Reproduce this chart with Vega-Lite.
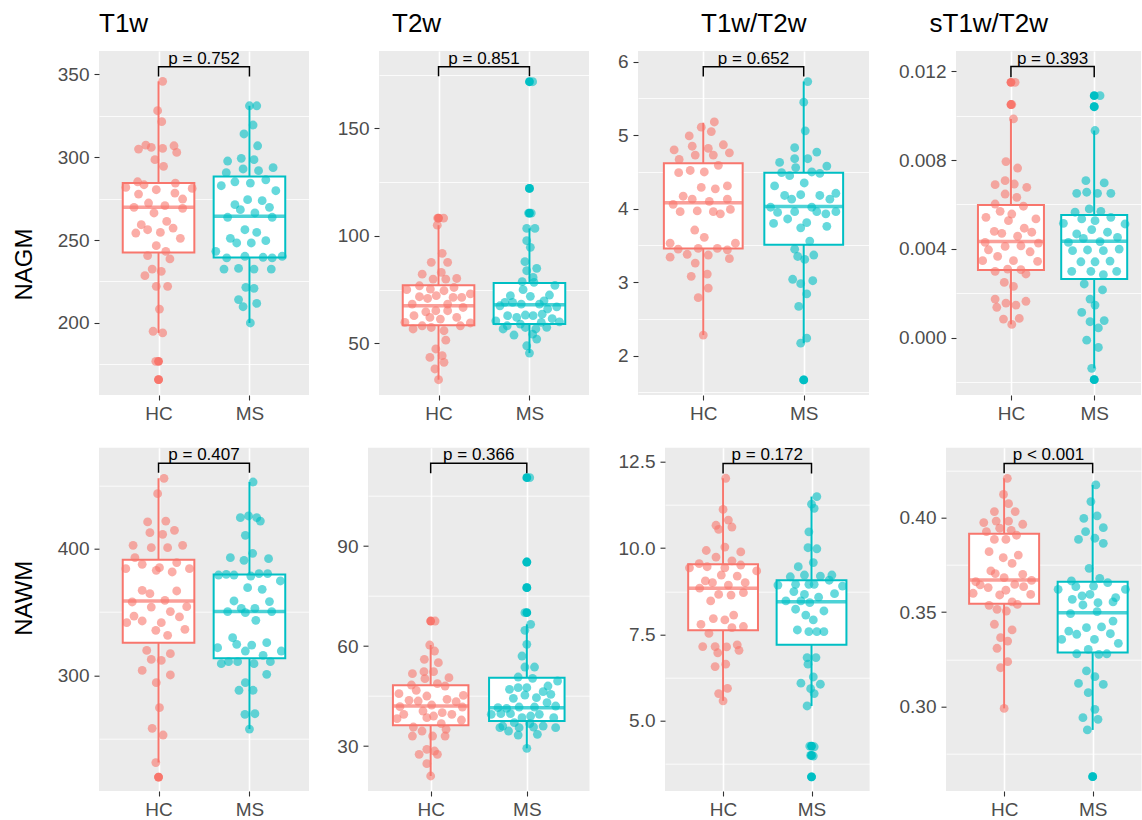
{
"$schema": "https://vega.github.io/schema/vega-lite/v6.json",
"padding": {"left": 12, "top": 10, "right": 0, "bottom": 0},
"background": "white",
"spacing": 20.7,
"config": {
  "font": "Liberation Sans",
  "view": {"fill": "#EBEBEB", "stroke": null},
  "axis": {"domain": false, "tickColor": "#333333", "tickSize": 5, "tickWidth": 1.1, "labelFontSize": 19, "labelColor": "#4D4D4D", "labelPadding": 4, "grid": true, "gridColor": "#FFFFFF", "gridWidth": 1.6, "labelFont": "Liberation Sans"},
  "axisY": {"labelPadding": 5}
},
"datasets": {
"box": [
{"p":"A1","g":"HC","x":1,"lo":194.0,"q1":242.4,"md":269.7,"q3":284.3,"hi":345.6},
{"p":"A1","g":"MS","x":2,"lo":200.0,"q1":239.4,"md":264.3,"q3":288.2,"hi":330.9},
{"p":"A2","g":"HC","x":1,"lo":33.1,"q1":58.5,"md":67.5,"q3":77.1,"hi":105.0},
{"p":"A2","g":"MS","x":2,"lo":45.5,"q1":59.0,"md":68.0,"q3":78.1,"hi":103.5},
{"p":"A3","g":"HC","x":1,"lo":2.28,"q1":3.46,"md":4.08,"q3":4.62,"hi":5.17},
{"p":"A3","g":"MS","x":2,"lo":2.17,"q1":3.51,"md":4.03,"q3":4.49,"hi":5.73},
{"p":"A4","g":"HC","x":1,"lo":0.0006,"q1":0.00305,"md":0.00433,"q3":0.00598,"hi":0.00985},
{"p":"A4","g":"MS","x":2,"lo":-0.00138,"q1":0.00264,"md":0.00434,"q3":0.00553,"hi":0.00933},
{"p":"B1","g":"HC","x":1,"lo":231.1,"q1":325.8,"md":358.7,"q3":391.3,"hi":455.5},
{"p":"B1","g":"MS","x":2,"lo":257.6,"q1":313.4,"md":350.3,"q3":379.7,"hi":452.6},
{"p":"B2","g":"HC","x":1,"lo":21.0,"q1":36.2,"md":42.0,"q3":48.2,"hi":60.3},
{"p":"B2","g":"MS","x":2,"lo":29.3,"q1":37.5,"md":41.5,"q3":50.5,"hi":66.5},
{"p":"B3","g":"HC","x":1,"lo":5.58,"q1":7.62,"md":8.84,"q3":9.53,"hi":12.02},
{"p":"B3","g":"MS","x":2,"lo":5.43,"q1":7.20,"md":8.45,"q3":9.07,"hi":11.49},
{"p":"B4","g":"HC","x":1,"lo":0.2991,"q1":0.3545,"md":0.3670,"q3":0.3915,"hi":0.4208},
{"p":"B4","g":"MS","x":2,"lo":0.2877,"q1":0.3286,"md":0.3497,"q3":0.3661,"hi":0.4173}
],
"out": [
{"p":"A1","g":"HC","x":1,"y":176.9},{"p":"A1","g":"HC","x":1,"y":165.9},
{"p":"A2","g":"HC","x":1,"y":108.3},{"p":"A2","g":"MS","x":2,"y":171.7},{"p":"A2","g":"MS","x":2,"y":122.1},{"p":"A2","g":"MS","x":2,"y":110.6},
{"p":"A3","g":"MS","x":2,"y":1.67},
{"p":"A4","g":"HC","x":1,"y":0.0115},{"p":"A4","g":"HC","x":1,"y":0.0105},{"p":"A4","g":"MS","x":2,"y":0.0109},{"p":"A4","g":"MS","x":2,"y":0.0104},{"p":"A4","g":"MS","x":2,"y":-0.00189},
{"p":"B1","g":"HC","x":1,"y":219.7},
{"p":"B2","g":"HC","x":1,"y":67.5},{"p":"B2","g":"MS","x":2,"y":110.5},{"p":"B2","g":"MS","x":2,"y":85.2},{"p":"B2","g":"MS","x":2,"y":77.5},{"p":"B2","g":"MS","x":2,"y":70.0},
{"p":"B3","g":"MS","x":2,"y":4.27},{"p":"B3","g":"MS","x":2,"y":4.0},{"p":"B3","g":"MS","x":2,"y":3.38},
{"p":"B4","g":"MS","x":2,"y":0.263}
],
"brk": [
{"p":"A1","x":1,"y":348.6,"o":1},{"p":"A1","x":1,"y":354.4,"o":2},{"p":"A1","x":2,"y":354.4,"o":3},{"p":"A1","x":2,"y":348.6,"o":4},
{"p":"A2","x":1,"y":174.2,"o":1},{"p":"A2","x":1,"y":178.7,"o":2},{"p":"A2","x":2,"y":178.7,"o":3},{"p":"A2","x":2,"y":174.2,"o":4},
{"p":"A3","x":1,"y":5.80,"o":1},{"p":"A3","x":1,"y":5.93,"o":2},{"p":"A3","x":2,"y":5.93,"o":3},{"p":"A3","x":2,"y":5.80,"o":4},
{"p":"A4","x":1,"y":0.01173,"o":1},{"p":"A4","x":1,"y":0.01221,"o":2},{"p":"A4","x":2,"y":0.01221,"o":3},{"p":"A4","x":2,"y":0.01173,"o":4},
{"p":"B1","x":1,"y":460.0,"o":1},{"p":"B1","x":1,"y":467.4,"o":2},{"p":"B1","x":2,"y":467.4,"o":3},{"p":"B1","x":2,"y":460.0,"o":4},
{"p":"B2","x":1,"y":111.8,"o":1},{"p":"B2","x":1,"y":114.8,"o":2},{"p":"B2","x":2,"y":114.8,"o":3},{"p":"B2","x":2,"y":111.8,"o":4},
{"p":"B3","x":1,"y":12.16,"o":1},{"p":"B3","x":1,"y":12.45,"o":2},{"p":"B3","x":2,"y":12.45,"o":3},{"p":"B3","x":2,"y":12.16,"o":4},
{"p":"B4","x":1,"y":0.4235,"o":1},{"p":"B4","x":1,"y":0.4287,"o":2},{"p":"B4","x":2,"y":0.4287,"o":3},{"p":"B4","x":2,"y":0.4235,"o":4}
],
"lab": [
{"p":"A1","x":1.5,"y":354.4,"t":"p = 0.752"},
{"p":"A2","x":1.5,"y":178.7,"t":"p = 0.851"},
{"p":"A3","x":1.5,"y":5.93,"t":"p = 0.652"},
{"p":"A4","x":1.5,"y":0.01221,"t":"p = 0.393"},
{"p":"B1","x":1.5,"y":467.4,"t":"p = 0.407"},
{"p":"B2","x":1.5,"y":114.8,"t":"p = 0.366"},
{"p":"B3","x":1.5,"y":12.45,"t":"p = 0.172"},
{"p":"B4","x":1.5,"y":0.4287,"t":"p < 0.001"}
],
"pts": [
{"p":"A1","g":"HC","x":1.045,"y":345.6},{"p":"A1","g":"HC","x":0.99,"y":327.9},{"p":"A1","g":"HC","x":1.035,"y":321.3},{"p":"A1","g":"HC","x":0.78,"y":304.8},{"p":"A1","g":"HC","x":0.86,"y":307.2},{"p":"A1","g":"HC","x":0.92,"y":305.8},{"p":"A1","g":"HC","x":1.045,"y":305.2},{"p":"A1","g":"HC","x":1.17,"y":306.8},{"p":"A1","g":"HC","x":1.2,"y":302.8},{"p":"A1","g":"HC","x":0.96,"y":298.4},{"p":"A1","g":"HC","x":1.055,"y":294.4},{"p":"A1","g":"HC","x":0.64,"y":281.7},{"p":"A1","g":"HC","x":0.77,"y":285.1},{"p":"A1","g":"HC","x":0.84,"y":283.3},{"p":"A1","g":"HC","x":0.975,"y":280.3},{"p":"A1","g":"HC","x":1.185,"y":284.3},{"p":"A1","g":"HC","x":1.37,"y":281.1},{"p":"A1","g":"HC","x":0.78,"y":277.7},{"p":"A1","g":"HC","x":1.18,"y":278.3},{"p":"A1","g":"HC","x":1.265,"y":274.7},{"p":"A1","g":"HC","x":0.73,"y":269.7},{"p":"A1","g":"HC","x":0.89,"y":272.3},{"p":"A1","g":"HC","x":1.07,"y":270.7},{"p":"A1","g":"HC","x":1.265,"y":269.1},{"p":"A1","g":"HC","x":0.95,"y":266.3},{"p":"A1","g":"HC","x":1.09,"y":261.2},{"p":"A1","g":"HC","x":0.81,"y":259.2},{"p":"A1","g":"HC","x":0.88,"y":256.2},{"p":"A1","g":"HC","x":0.75,"y":254.2},{"p":"A1","g":"HC","x":1.02,"y":254.6},{"p":"A1","g":"HC","x":1.16,"y":257.2},{"p":"A1","g":"HC","x":1.24,"y":251.0},{"p":"A1","g":"HC","x":0.975,"y":246.6},{"p":"A1","g":"HC","x":0.88,"y":240.6},{"p":"A1","g":"HC","x":1.08,"y":243.2},{"p":"A1","g":"HC","x":1.125,"y":238.6},{"p":"A1","g":"HC","x":0.93,"y":232.5},{"p":"A1","g":"HC","x":0.85,"y":228.5},{"p":"A1","g":"HC","x":1.03,"y":231.1},{"p":"A1","g":"HC","x":0.975,"y":222.1},{"p":"A1","g":"HC","x":1.1,"y":222.1},{"p":"A1","g":"HC","x":1.01,"y":208.4},{"p":"A1","g":"HC","x":0.94,"y":195.0},{"p":"A1","g":"HC","x":1.045,"y":194.0},{"p":"A1","g":"HC","x":0.97,"y":176.9},{"p":"A1","g":"HC","x":1.0,"y":165.9},
{"p":"A1","g":"MS","x":2.0,"y":330.9},{"p":"A1","g":"MS","x":2.08,"y":330.9},{"p":"A1","g":"MS","x":2.04,"y":319.3},{"p":"A1","g":"MS","x":1.94,"y":313.9},{"p":"A1","g":"MS","x":2.09,"y":306.8},{"p":"A1","g":"MS","x":1.76,"y":297.6},{"p":"A1","g":"MS","x":1.91,"y":299.2},{"p":"A1","g":"MS","x":2.05,"y":298.4},{"p":"A1","g":"MS","x":1.745,"y":290.6},{"p":"A1","g":"MS","x":1.93,"y":292.8},{"p":"A1","g":"MS","x":2.1,"y":291.8},{"p":"A1","g":"MS","x":2.26,"y":293.6},{"p":"A1","g":"MS","x":1.69,"y":282.7},{"p":"A1","g":"MS","x":1.84,"y":285.1},{"p":"A1","g":"MS","x":2.01,"y":284.3},{"p":"A1","g":"MS","x":2.18,"y":286.3},{"p":"A1","g":"MS","x":2.29,"y":279.7},{"p":"A1","g":"MS","x":1.98,"y":274.3},{"p":"A1","g":"MS","x":2.14,"y":273.7},{"p":"A1","g":"MS","x":1.84,"y":271.3},{"p":"A1","g":"MS","x":1.9,"y":268.3},{"p":"A1","g":"MS","x":2.22,"y":269.7},{"p":"A1","g":"MS","x":2.06,"y":266.3},{"p":"A1","g":"MS","x":1.76,"y":263.7},{"p":"A1","g":"MS","x":2.25,"y":263.7},{"p":"A1","g":"MS","x":1.95,"y":256.2},{"p":"A1","g":"MS","x":2.08,"y":254.6},{"p":"A1","g":"MS","x":1.79,"y":251.0},{"p":"A1","g":"MS","x":1.86,"y":248.2},{"p":"A1","g":"MS","x":2.02,"y":248.2},{"p":"A1","g":"MS","x":2.18,"y":249.6},{"p":"A1","g":"MS","x":1.63,"y":243.2},{"p":"A1","g":"MS","x":1.75,"y":239.2},{"p":"A1","g":"MS","x":1.95,"y":240.2},{"p":"A1","g":"MS","x":2.15,"y":239.6},{"p":"A1","g":"MS","x":2.25,"y":239.2},{"p":"A1","g":"MS","x":2.36,"y":240.2},{"p":"A1","g":"MS","x":1.72,"y":232.5},{"p":"A1","g":"MS","x":1.88,"y":232.9},{"p":"A1","g":"MS","x":2.05,"y":232.5},{"p":"A1","g":"MS","x":2.24,"y":232.5},{"p":"A1","g":"MS","x":1.96,"y":221.5},{"p":"A1","g":"MS","x":2.05,"y":220.9},{"p":"A1","g":"MS","x":1.88,"y":214.1},{"p":"A1","g":"MS","x":1.93,"y":209.8},{"p":"A1","g":"MS","x":2.08,"y":211.8},{"p":"A1","g":"MS","x":2.01,"y":200.0},
{"p":"A2","g":"HC","x":1.056,"y":108.3},{"p":"A2","g":"HC","x":0.99,"y":108.3},{"p":"A2","g":"HC","x":0.986,"y":105.0},{"p":"A2","g":"HC","x":1.04,"y":91.9},{"p":"A2","g":"HC","x":0.92,"y":87.7},{"p":"A2","g":"HC","x":1.1,"y":87.7},{"p":"A2","g":"HC","x":1.03,"y":83.0},{"p":"A2","g":"HC","x":0.82,"y":82.2},{"p":"A2","g":"HC","x":0.94,"y":79.9},{"p":"A2","g":"HC","x":1.08,"y":79.9},{"p":"A2","g":"HC","x":1.2,"y":80.2},{"p":"A2","g":"HC","x":0.79,"y":76.8},{"p":"A2","g":"HC","x":1.17,"y":76.0},{"p":"A2","g":"HC","x":0.65,"y":75.0},{"p":"A2","g":"HC","x":0.91,"y":75.3},{"p":"A2","g":"HC","x":1.06,"y":74.5},{"p":"A2","g":"HC","x":1.35,"y":73.0},{"p":"A2","g":"HC","x":0.79,"y":71.7},{"p":"A2","g":"HC","x":0.975,"y":72.2},{"p":"A2","g":"HC","x":0.88,"y":70.9},{"p":"A2","g":"HC","x":1.16,"y":71.4},{"p":"A2","g":"HC","x":1.255,"y":71.4},{"p":"A2","g":"HC","x":0.71,"y":68.3},{"p":"A2","g":"HC","x":1.1,"y":68.3},{"p":"A2","g":"HC","x":0.86,"y":64.7},{"p":"A2","g":"HC","x":0.97,"y":65.2},{"p":"A2","g":"HC","x":1.1,"y":65.2},{"p":"A2","g":"HC","x":1.27,"y":66.7},{"p":"A2","g":"HC","x":0.73,"y":62.9},{"p":"A2","g":"HC","x":0.905,"y":62.1},{"p":"A2","g":"HC","x":1.2,"y":62.1},{"p":"A2","g":"HC","x":1.02,"y":61.3},{"p":"A2","g":"HC","x":0.63,"y":59.8},{"p":"A2","g":"HC","x":1.35,"y":59.5},{"p":"A2","g":"HC","x":0.82,"y":58.2},{"p":"A2","g":"HC","x":1.24,"y":58.2},{"p":"A2","g":"HC","x":0.72,"y":56.7},{"p":"A2","g":"HC","x":0.92,"y":57.4},{"p":"A2","g":"HC","x":1.06,"y":55.9},{"p":"A2","g":"HC","x":1.08,"y":51.5},{"p":"A2","g":"HC","x":0.97,"y":47.4},{"p":"A2","g":"HC","x":0.905,"y":43.5},{"p":"A2","g":"HC","x":1.04,"y":44.3},{"p":"A2","g":"HC","x":1.06,"y":41.2},{"p":"A2","g":"HC","x":0.96,"y":38.1},{"p":"A2","g":"HC","x":1.0,"y":33.1},
{"p":"A2","g":"MS","x":2.035,"y":171.7},{"p":"A2","g":"MS","x":2.0,"y":122.1},{"p":"A2","g":"MS","x":1.99,"y":110.6},{"p":"A2","g":"MS","x":2.02,"y":110.6},{"p":"A2","g":"MS","x":1.97,"y":103.5},{"p":"A2","g":"MS","x":2.06,"y":103.5},{"p":"A2","g":"MS","x":1.97,"y":97.8},{"p":"A2","g":"MS","x":2.01,"y":94.7},{"p":"A2","g":"MS","x":1.95,"y":88.0},{"p":"A2","g":"MS","x":1.97,"y":83.8},{"p":"A2","g":"MS","x":2.08,"y":84.9},{"p":"A2","g":"MS","x":2.05,"y":78.4},{"p":"A2","g":"MS","x":1.92,"y":78.7},{"p":"A2","g":"MS","x":2.04,"y":80.7},{"p":"A2","g":"MS","x":1.93,"y":75.0},{"p":"A2","g":"MS","x":1.79,"y":72.2},{"p":"A2","g":"MS","x":2.01,"y":71.9},{"p":"A2","g":"MS","x":1.73,"y":69.1},{"p":"A2","g":"MS","x":1.815,"y":69.1},{"p":"A2","g":"MS","x":1.91,"y":68.3},{"p":"A2","g":"MS","x":2.11,"y":68.3},{"p":"A2","g":"MS","x":2.16,"y":69.8},{"p":"A2","g":"MS","x":1.675,"y":67.5},{"p":"A2","g":"MS","x":1.63,"y":60.5},{"p":"A2","g":"MS","x":1.76,"y":62.9},{"p":"A2","g":"MS","x":1.86,"y":62.1},{"p":"A2","g":"MS","x":1.955,"y":63.2},{"p":"A2","g":"MS","x":2.04,"y":62.9},{"p":"A2","g":"MS","x":2.14,"y":63.6},{"p":"A2","g":"MS","x":1.71,"y":56.7},{"p":"A2","g":"MS","x":1.83,"y":53.9},{"p":"A2","g":"MS","x":1.955,"y":57.4},{"p":"A2","g":"MS","x":2.07,"y":56.7},{"p":"A2","g":"MS","x":2.08,"y":52.0},{"p":"A2","g":"MS","x":2.035,"y":54.3},{"p":"A2","g":"MS","x":1.97,"y":48.9},{"p":"A2","g":"MS","x":2.0,"y":45.5},{"p":"A2","g":"MS","x":1.755,"y":58.2},{"p":"A2","g":"MS","x":1.9,"y":59.0},{"p":"A2","g":"MS","x":2.13,"y":59.8},{"p":"A2","g":"MS","x":2.22,"y":72.5},{"p":"A2","g":"MS","x":2.3,"y":67.0},{"p":"A2","g":"MS","x":2.25,"y":61.5},{"p":"A2","g":"MS","x":2.19,"y":57.5},{"p":"A2","g":"MS","x":2.28,"y":77.0},{"p":"A2","g":"MS","x":2.33,"y":60.0},{"p":"A2","g":"MS","x":2.2,"y":66.0},
{"p":"A3","g":"HC","x":1.11,"y":5.18},{"p":"A3","g":"HC","x":0.98,"y":5.11},{"p":"A3","g":"HC","x":1.08,"y":5.05},{"p":"A3","g":"HC","x":0.86,"y":4.99},{"p":"A3","g":"HC","x":0.71,"y":4.80},{"p":"A3","g":"HC","x":0.89,"y":4.85},{"p":"A3","g":"HC","x":1.05,"y":4.82},{"p":"A3","g":"HC","x":1.2,"y":4.87},{"p":"A3","g":"HC","x":0.76,"y":4.67},{"p":"A3","g":"HC","x":0.92,"y":4.73},{"p":"A3","g":"HC","x":1.1,"y":4.73},{"p":"A3","g":"HC","x":1.26,"y":4.76},{"p":"A3","g":"HC","x":1.15,"y":4.59},{"p":"A3","g":"HC","x":0.755,"y":4.49},{"p":"A3","g":"HC","x":0.87,"y":4.52},{"p":"A3","g":"HC","x":1.01,"y":4.50},{"p":"A3","g":"HC","x":0.98,"y":4.29},{"p":"A3","g":"HC","x":1.12,"y":4.27},{"p":"A3","g":"HC","x":1.24,"y":4.31},{"p":"A3","g":"HC","x":0.8,"y":4.17},{"p":"A3","g":"HC","x":0.89,"y":4.13},{"p":"A3","g":"HC","x":1.06,"y":4.10},{"p":"A3","g":"HC","x":1.24,"y":4.13},{"p":"A3","g":"HC","x":0.7,"y":4.06},{"p":"A3","g":"HC","x":0.77,"y":3.96},{"p":"A3","g":"HC","x":0.94,"y":3.97},{"p":"A3","g":"HC","x":1.1,"y":3.96},{"p":"A3","g":"HC","x":1.17,"y":3.93},{"p":"A3","g":"HC","x":1.27,"y":3.99},{"p":"A3","g":"HC","x":0.915,"y":3.71},{"p":"A3","g":"HC","x":1.01,"y":3.61},{"p":"A3","g":"HC","x":0.67,"y":3.53},{"p":"A3","g":"HC","x":0.75,"y":3.45},{"p":"A3","g":"HC","x":0.95,"y":3.46},{"p":"A3","g":"HC","x":1.14,"y":3.46},{"p":"A3","g":"HC","x":1.32,"y":3.53},{"p":"A3","g":"HC","x":1.24,"y":3.44},{"p":"A3","g":"HC","x":0.84,"y":3.38},{"p":"A3","g":"HC","x":1.05,"y":3.37},{"p":"A3","g":"HC","x":0.67,"y":3.34},{"p":"A3","g":"HC","x":1.26,"y":3.32},{"p":"A3","g":"HC","x":0.92,"y":3.26},{"p":"A3","g":"HC","x":1.04,"y":3.11},{"p":"A3","g":"HC","x":0.88,"y":3.08},{"p":"A3","g":"HC","x":1.05,"y":2.92},{"p":"A3","g":"HC","x":0.95,"y":2.79},{"p":"A3","g":"HC","x":1.0,"y":2.28},
{"p":"A3","g":"MS","x":2.04,"y":5.73},{"p":"A3","g":"MS","x":2.0,"y":5.45},{"p":"A3","g":"MS","x":2.015,"y":5.06},{"p":"A3","g":"MS","x":1.91,"y":4.83},{"p":"A3","g":"MS","x":1.91,"y":4.68},{"p":"A3","g":"MS","x":2.04,"y":4.68},{"p":"A3","g":"MS","x":2.13,"y":4.77},{"p":"A3","g":"MS","x":1.76,"y":4.63},{"p":"A3","g":"MS","x":1.92,"y":4.56},{"p":"A3","g":"MS","x":2.23,"y":4.58},{"p":"A3","g":"MS","x":1.78,"y":4.49},{"p":"A3","g":"MS","x":1.86,"y":4.45},{"p":"A3","g":"MS","x":2.08,"y":4.50},{"p":"A3","g":"MS","x":2.16,"y":4.48},{"p":"A3","g":"MS","x":1.71,"y":4.31},{"p":"A3","g":"MS","x":2.005,"y":4.35},{"p":"A3","g":"MS","x":1.81,"y":4.18},{"p":"A3","g":"MS","x":1.88,"y":4.13},{"p":"A3","g":"MS","x":1.97,"y":4.19},{"p":"A3","g":"MS","x":2.16,"y":4.18},{"p":"A3","g":"MS","x":2.26,"y":4.13},{"p":"A3","g":"MS","x":2.32,"y":4.21},{"p":"A3","g":"MS","x":1.67,"y":4.02},{"p":"A3","g":"MS","x":1.74,"y":3.95},{"p":"A3","g":"MS","x":1.91,"y":3.96},{"p":"A3","g":"MS","x":2.08,"y":4.02},{"p":"A3","g":"MS","x":2.13,"y":3.96},{"p":"A3","g":"MS","x":2.22,"y":3.93},{"p":"A3","g":"MS","x":2.32,"y":3.96},{"p":"A3","g":"MS","x":1.84,"y":3.86},{"p":"A3","g":"MS","x":1.7,"y":3.80},{"p":"A3","g":"MS","x":2.03,"y":3.81},{"p":"A3","g":"MS","x":1.97,"y":3.74},{"p":"A3","g":"MS","x":2.23,"y":3.76},{"p":"A3","g":"MS","x":2.06,"y":3.56},{"p":"A3","g":"MS","x":1.91,"y":3.45},{"p":"A3","g":"MS","x":1.94,"y":3.35},{"p":"A3","g":"MS","x":2.01,"y":3.31},{"p":"A3","g":"MS","x":2.1,"y":3.37},{"p":"A3","g":"MS","x":1.89,"y":3.04},{"p":"A3","g":"MS","x":2.09,"y":3.02},{"p":"A3","g":"MS","x":1.97,"y":2.98},{"p":"A3","g":"MS","x":2.03,"y":2.84},{"p":"A3","g":"MS","x":1.95,"y":2.67},{"p":"A3","g":"MS","x":2.03,"y":2.24},{"p":"A3","g":"MS","x":1.97,"y":2.17},{"p":"A3","g":"MS","x":2.0,"y":1.67},
{"p":"A4","g":"HC","x":1.05,"y":0.0115},{"p":"A4","g":"HC","x":1.01,"y":0.0105},{"p":"A4","g":"HC","x":1.03,"y":0.00985},{"p":"A4","g":"HC","x":0.94,"y":0.00793},{"p":"A4","g":"HC","x":1.08,"y":0.00764},{"p":"A4","g":"HC","x":0.81,"y":0.00689},{"p":"A4","g":"HC","x":0.93,"y":0.00707},{"p":"A4","g":"HC","x":1.04,"y":0.00692},{"p":"A4","g":"HC","x":1.19,"y":0.00677},{"p":"A4","g":"HC","x":0.93,"y":0.00647},{"p":"A4","g":"HC","x":1.07,"y":0.00632},{"p":"A4","g":"HC","x":0.81,"y":0.00602},{"p":"A4","g":"HC","x":1.15,"y":0.00592},{"p":"A4","g":"HC","x":0.87,"y":0.00569},{"p":"A4","g":"HC","x":1.01,"y":0.00557},{"p":"A4","g":"HC","x":0.7,"y":0.00542},{"p":"A4","g":"HC","x":0.97,"y":0.00527},{"p":"A4","g":"HC","x":1.3,"y":0.00535},{"p":"A4","g":"HC","x":1.16,"y":0.00493},{"p":"A4","g":"HC","x":0.8,"y":0.00479},{"p":"A4","g":"HC","x":0.89,"y":0.0047},{"p":"A4","g":"HC","x":1.08,"y":0.00457},{"p":"A4","g":"HC","x":1.25,"y":0.00475},{"p":"A4","g":"HC","x":0.69,"y":0.00429},{"p":"A4","g":"HC","x":1.33,"y":0.00426},{"p":"A4","g":"HC","x":0.93,"y":0.00411},{"p":"A4","g":"HC","x":1.12,"y":0.00414},{"p":"A4","g":"HC","x":0.73,"y":0.00396},{"p":"A4","g":"HC","x":1.23,"y":0.00387},{"p":"A4","g":"HC","x":0.84,"y":0.00366},{"p":"A4","g":"HC","x":0.66,"y":0.00347},{"p":"A4","g":"HC","x":1.03,"y":0.00347},{"p":"A4","g":"HC","x":1.32,"y":0.00344},{"p":"A4","g":"HC","x":0.81,"y":0.00299},{"p":"A4","g":"HC","x":0.96,"y":0.00309},{"p":"A4","g":"HC","x":1.12,"y":0.00306},{"p":"A4","g":"HC","x":1.18,"y":0.00287},{"p":"A4","g":"HC","x":0.92,"y":0.00249},{"p":"A4","g":"HC","x":1.03,"y":0.00231},{"p":"A4","g":"HC","x":0.81,"y":0.00174},{"p":"A4","g":"HC","x":0.94,"y":0.00156},{"p":"A4","g":"HC","x":1.06,"y":0.00147},{"p":"A4","g":"HC","x":1.18,"y":0.00164},{"p":"A4","g":"HC","x":0.83,"y":0.00137},{"p":"A4","g":"HC","x":0.91,"y":0.00084},{"p":"A4","g":"HC","x":1.1,"y":0.00087},{"p":"A4","g":"HC","x":1.01,"y":0.0006},
{"p":"A4","g":"MS","x":2.07,"y":0.0109},{"p":"A4","g":"MS","x":2.0,"y":0.0104},{"p":"A4","g":"MS","x":2.01,"y":0.00933},{"p":"A4","g":"MS","x":1.9,"y":0.00707},{"p":"A4","g":"MS","x":2.12,"y":0.00697},{"p":"A4","g":"MS","x":1.79,"y":0.0065},{"p":"A4","g":"MS","x":1.91,"y":0.00655},{"p":"A4","g":"MS","x":2.04,"y":0.0065},{"p":"A4","g":"MS","x":2.2,"y":0.0065},{"p":"A4","g":"MS","x":1.77,"y":0.00565},{"p":"A4","g":"MS","x":1.94,"y":0.0058},{"p":"A4","g":"MS","x":2.08,"y":0.00569},{"p":"A4","g":"MS","x":1.85,"y":0.00535},{"p":"A4","g":"MS","x":2.01,"y":0.00527},{"p":"A4","g":"MS","x":2.2,"y":0.00542},{"p":"A4","g":"MS","x":1.63,"y":0.00515},{"p":"A4","g":"MS","x":2.37,"y":0.00512},{"p":"A4","g":"MS","x":1.79,"y":0.00467},{"p":"A4","g":"MS","x":1.97,"y":0.00487},{"p":"A4","g":"MS","x":2.16,"y":0.00475},{"p":"A4","g":"MS","x":1.69,"y":0.00429},{"p":"A4","g":"MS","x":1.87,"y":0.00447},{"p":"A4","g":"MS","x":2.07,"y":0.00433},{"p":"A4","g":"MS","x":2.28,"y":0.00452},{"p":"A4","g":"MS","x":1.74,"y":0.00392},{"p":"A4","g":"MS","x":1.92,"y":0.00395},{"p":"A4","g":"MS","x":2.11,"y":0.00392},{"p":"A4","g":"MS","x":2.3,"y":0.00399},{"p":"A4","g":"MS","x":1.84,"y":0.00342},{"p":"A4","g":"MS","x":2.01,"y":0.00342},{"p":"A4","g":"MS","x":2.19,"y":0.00345},{"p":"A4","g":"MS","x":1.73,"y":0.00299},{"p":"A4","g":"MS","x":1.96,"y":0.00299},{"p":"A4","g":"MS","x":2.11,"y":0.00284},{"p":"A4","g":"MS","x":2.27,"y":0.00299},{"p":"A4","g":"MS","x":1.88,"y":0.00242},{"p":"A4","g":"MS","x":2.1,"y":0.00215},{"p":"A4","g":"MS","x":1.95,"y":0.00174},{"p":"A4","g":"MS","x":2.01,"y":0.00147},{"p":"A4","g":"MS","x":1.85,"y":0.00114},{"p":"A4","g":"MS","x":2.12,"y":0.00077},{"p":"A4","g":"MS","x":1.95,"y":0.00072},{"p":"A4","g":"MS","x":2.05,"y":0.00044},{"p":"A4","g":"MS","x":1.91,"y":-0.00011},{"p":"A4","g":"MS","x":2.05,"y":-0.00044},{"p":"A4","g":"MS","x":1.97,"y":-0.00138},{"p":"A4","g":"MS","x":2.0,"y":-0.00189},
{"p":"B1","g":"HC","x":1.06,"y":455.5},{"p":"B1","g":"HC","x":0.99,"y":443.4},{"p":"B1","g":"HC","x":0.88,"y":421.1},{"p":"B1","g":"HC","x":1.08,"y":421.8},{"p":"B1","g":"HC","x":0.905,"y":412.6},{"p":"B1","g":"HC","x":1.045,"y":411.3},{"p":"B1","g":"HC","x":1.175,"y":414.5},{"p":"B1","g":"HC","x":0.72,"y":402.6},{"p":"B1","g":"HC","x":0.92,"y":400.8},{"p":"B1","g":"HC","x":1.1,"y":400.8},{"p":"B1","g":"HC","x":1.265,"y":402.6},{"p":"B1","g":"HC","x":0.74,"y":392.9},{"p":"B1","g":"HC","x":0.64,"y":384.2},{"p":"B1","g":"HC","x":0.82,"y":387.6},{"p":"B1","g":"HC","x":0.975,"y":382.9},{"p":"B1","g":"HC","x":1.15,"y":381.6},{"p":"B1","g":"HC","x":1.2,"y":389.0},{"p":"B1","g":"HC","x":1.34,"y":384.2},{"p":"B1","g":"HC","x":1.01,"y":385.0},{"p":"B1","g":"HC","x":0.82,"y":367.1},{"p":"B1","g":"HC","x":0.905,"y":364.5},{"p":"B1","g":"HC","x":1.2,"y":366.6},{"p":"B1","g":"HC","x":0.71,"y":357.9},{"p":"B1","g":"HC","x":1.07,"y":359.2},{"p":"B1","g":"HC","x":0.92,"y":353.9},{"p":"B1","g":"HC","x":1.31,"y":354.2},{"p":"B1","g":"HC","x":1.13,"y":350.3},{"p":"B1","g":"HC","x":0.73,"y":346.8},{"p":"B1","g":"HC","x":0.82,"y":342.9},{"p":"B1","g":"HC","x":1.03,"y":341.6},{"p":"B1","g":"HC","x":1.23,"y":346.1},{"p":"B1","g":"HC","x":0.65,"y":341.6},{"p":"B1","g":"HC","x":0.97,"y":335.5},{"p":"B1","g":"HC","x":1.29,"y":336.3},{"p":"B1","g":"HC","x":1.1,"y":331.6},{"p":"B1","g":"HC","x":0.87,"y":319.7},{"p":"B1","g":"HC","x":1.13,"y":317.1},{"p":"B1","g":"HC","x":0.92,"y":312.6},{"p":"B1","g":"HC","x":1.03,"y":311.8},{"p":"B1","g":"HC","x":0.82,"y":303.9},{"p":"B1","g":"HC","x":1.13,"y":300.3},{"p":"B1","g":"HC","x":0.975,"y":294.2},{"p":"B1","g":"HC","x":1.01,"y":274.5},{"p":"B1","g":"HC","x":0.93,"y":258.2},{"p":"B1","g":"HC","x":1.05,"y":252.9},{"p":"B1","g":"HC","x":0.97,"y":231.1},{"p":"B1","g":"HC","x":1.0,"y":219.7},
{"p":"B1","g":"MS","x":2.04,"y":452.6},{"p":"B1","g":"MS","x":1.9,"y":424.5},{"p":"B1","g":"MS","x":1.99,"y":425.8},{"p":"B1","g":"MS","x":2.08,"y":424.5},{"p":"B1","g":"MS","x":2.12,"y":421.8},{"p":"B1","g":"MS","x":1.955,"y":410.5},{"p":"B1","g":"MS","x":1.79,"y":392.9},{"p":"B1","g":"MS","x":1.94,"y":390.8},{"p":"B1","g":"MS","x":2.035,"y":396.3},{"p":"B1","g":"MS","x":2.21,"y":392.1},{"p":"B1","g":"MS","x":1.66,"y":379.2},{"p":"B1","g":"MS","x":1.745,"y":379.7},{"p":"B1","g":"MS","x":1.83,"y":379.2},{"p":"B1","g":"MS","x":2.015,"y":378.4},{"p":"B1","g":"MS","x":2.105,"y":380.3},{"p":"B1","g":"MS","x":2.2,"y":380.3},{"p":"B1","g":"MS","x":2.34,"y":374.5},{"p":"B1","g":"MS","x":1.98,"y":369.2},{"p":"B1","g":"MS","x":2.14,"y":367.9},{"p":"B1","g":"MS","x":1.83,"y":358.7},{"p":"B1","g":"MS","x":2.22,"y":358.2},{"p":"B1","g":"MS","x":1.76,"y":350.3},{"p":"B1","g":"MS","x":1.91,"y":352.9},{"p":"B1","g":"MS","x":1.955,"y":349.5},{"p":"B1","g":"MS","x":2.06,"y":352.9},{"p":"B1","g":"MS","x":2.245,"y":350.3},{"p":"B1","g":"MS","x":2.07,"y":343.4},{"p":"B1","g":"MS","x":1.815,"y":329.7},{"p":"B1","g":"MS","x":1.86,"y":324.5},{"p":"B1","g":"MS","x":2.025,"y":323.9},{"p":"B1","g":"MS","x":2.19,"y":325.8},{"p":"B1","g":"MS","x":1.65,"y":321.8},{"p":"B1","g":"MS","x":1.955,"y":319.2},{"p":"B1","g":"MS","x":2.15,"y":315.8},{"p":"B1","g":"MS","x":2.35,"y":319.2},{"p":"B1","g":"MS","x":1.69,"y":309.2},{"p":"B1","g":"MS","x":1.77,"y":310.8},{"p":"B1","g":"MS","x":1.87,"y":310.8},{"p":"B1","g":"MS","x":2.05,"y":309.2},{"p":"B1","g":"MS","x":2.23,"y":310.8},{"p":"B1","g":"MS","x":2.19,"y":300.8},{"p":"B1","g":"MS","x":1.885,"y":288.2},{"p":"B1","g":"MS","x":1.955,"y":294.2},{"p":"B1","g":"MS","x":2.04,"y":288.2},{"p":"B1","g":"MS","x":1.95,"y":269.2},{"p":"B1","g":"MS","x":2.06,"y":269.7},{"p":"B1","g":"MS","x":2.0,"y":257.6},
{"p":"B2","g":"HC","x":1.046,"y":67.5},{"p":"B2","g":"HC","x":0.99,"y":60.3},{"p":"B2","g":"HC","x":1.04,"y":58.5},{"p":"B2","g":"HC","x":0.934,"y":56.0},{"p":"B2","g":"HC","x":1.08,"y":55.0},{"p":"B2","g":"HC","x":0.93,"y":52.3},{"p":"B2","g":"HC","x":0.81,"y":51.7},{"p":"B2","g":"HC","x":1.03,"y":52.3},{"p":"B2","g":"HC","x":1.19,"y":50.5},{"p":"B2","g":"HC","x":0.94,"y":50.2},{"p":"B2","g":"HC","x":0.8,"y":48.3},{"p":"B2","g":"HC","x":1.07,"y":48.7},{"p":"B2","g":"HC","x":1.15,"y":48.0},{"p":"B2","g":"HC","x":0.85,"y":46.7},{"p":"B2","g":"HC","x":0.67,"y":45.7},{"p":"B2","g":"HC","x":1.34,"y":45.2},{"p":"B2","g":"HC","x":0.96,"y":45.0},{"p":"B2","g":"HC","x":0.775,"y":43.7},{"p":"B2","g":"HC","x":0.87,"y":43.5},{"p":"B2","g":"HC","x":1.17,"y":44.0},{"p":"B2","g":"HC","x":1.265,"y":43.3},{"p":"B2","g":"HC","x":1.01,"y":42.3},{"p":"B2","g":"HC","x":0.68,"y":41.8},{"p":"B2","g":"HC","x":1.33,"y":41.7},{"p":"B2","g":"HC","x":0.72,"y":39.5},{"p":"B2","g":"HC","x":0.92,"y":40.5},{"p":"B2","g":"HC","x":1.12,"y":40.0},{"p":"B2","g":"HC","x":1.22,"y":39.5},{"p":"B2","g":"HC","x":0.65,"y":38.2},{"p":"B2","g":"HC","x":1.32,"y":37.8},{"p":"B2","g":"HC","x":0.96,"y":38.5},{"p":"B2","g":"HC","x":1.03,"y":39.0},{"p":"B2","g":"HC","x":0.82,"y":35.7},{"p":"B2","g":"HC","x":1.11,"y":36.7},{"p":"B2","g":"HC","x":0.91,"y":34.5},{"p":"B2","g":"HC","x":1.16,"y":35.0},{"p":"B2","g":"HC","x":0.81,"y":33.0},{"p":"B2","g":"HC","x":1.02,"y":33.0},{"p":"B2","g":"HC","x":1.15,"y":33.0},{"p":"B2","g":"HC","x":0.96,"y":29.0},{"p":"B2","g":"HC","x":1.04,"y":28.5},{"p":"B2","g":"HC","x":0.88,"y":27.5},{"p":"B2","g":"HC","x":1.07,"y":27.5},{"p":"B2","g":"HC","x":0.96,"y":24.7},{"p":"B2","g":"HC","x":1.0,"y":21.0},
{"p":"B2","g":"MS","x":2.03,"y":110.5},{"p":"B2","g":"MS","x":2.0,"y":85.2},{"p":"B2","g":"MS","x":2.0,"y":77.5},{"p":"B2","g":"MS","x":1.98,"y":70.0},{"p":"B2","g":"MS","x":2.04,"y":66.5},{"p":"B2","g":"MS","x":1.98,"y":64.7},{"p":"B2","g":"MS","x":2.0,"y":60.5},{"p":"B2","g":"MS","x":1.95,"y":57.0},{"p":"B2","g":"MS","x":1.98,"y":53.7},{"p":"B2","g":"MS","x":2.08,"y":53.7},{"p":"B2","g":"MS","x":1.91,"y":50.7},{"p":"B2","g":"MS","x":2.06,"y":50.3},{"p":"B2","g":"MS","x":1.82,"y":47.0},{"p":"B2","g":"MS","x":1.91,"y":47.5},{"p":"B2","g":"MS","x":2.0,"y":47.5},{"p":"B2","g":"MS","x":2.1,"y":44.5},{"p":"B2","g":"MS","x":2.17,"y":46.3},{"p":"B2","g":"MS","x":1.86,"y":44.3},{"p":"B2","g":"MS","x":1.98,"y":45.3},{"p":"B2","g":"MS","x":1.7,"y":41.5},{"p":"B2","g":"MS","x":1.79,"y":41.3},{"p":"B2","g":"MS","x":1.92,"y":41.7},{"p":"B2","g":"MS","x":2.08,"y":41.7},{"p":"B2","g":"MS","x":1.63,"y":39.5},{"p":"B2","g":"MS","x":1.73,"y":39.7},{"p":"B2","g":"MS","x":1.83,"y":39.7},{"p":"B2","g":"MS","x":1.95,"y":38.5},{"p":"B2","g":"MS","x":2.04,"y":39.0},{"p":"B2","g":"MS","x":2.13,"y":39.5},{"p":"B2","g":"MS","x":1.87,"y":37.0},{"p":"B2","g":"MS","x":1.75,"y":36.0},{"p":"B2","g":"MS","x":2.03,"y":36.7},{"p":"B2","g":"MS","x":2.17,"y":36.0},{"p":"B2","g":"MS","x":1.72,"y":35.5},{"p":"B2","g":"MS","x":1.81,"y":34.5},{"p":"B2","g":"MS","x":1.92,"y":35.5},{"p":"B2","g":"MS","x":2.07,"y":35.7},{"p":"B2","g":"MS","x":1.91,"y":33.3},{"p":"B2","g":"MS","x":2.11,"y":33.5},{"p":"B2","g":"MS","x":2.0,"y":29.3},{"p":"B2","g":"MS","x":2.25,"y":45.5},{"p":"B2","g":"MS","x":2.3,"y":42.0},{"p":"B2","g":"MS","x":2.28,"y":38.5},{"p":"B2","g":"MS","x":2.22,"y":48.0},{"p":"B2","g":"MS","x":2.32,"y":49.5},{"p":"B2","g":"MS","x":2.21,"y":43.0},{"p":"B2","g":"MS","x":2.3,"y":35.5},
{"p":"B3","g":"HC","x":1.03,"y":12.02},{"p":"B3","g":"HC","x":1.0,"y":11.12},{"p":"B3","g":"HC","x":1.06,"y":10.81},{"p":"B3","g":"HC","x":0.92,"y":10.66},{"p":"B3","g":"HC","x":0.95,"y":10.54},{"p":"B3","g":"HC","x":1.1,"y":10.61},{"p":"B3","g":"HC","x":1.02,"y":10.03},{"p":"B3","g":"HC","x":0.81,"y":9.93},{"p":"B3","g":"HC","x":0.92,"y":9.74},{"p":"B3","g":"HC","x":1.2,"y":9.89},{"p":"B3","g":"HC","x":0.62,"y":9.43},{"p":"B3","g":"HC","x":0.73,"y":9.55},{"p":"B3","g":"HC","x":0.82,"y":9.46},{"p":"B3","g":"HC","x":1.02,"y":9.43},{"p":"B3","g":"HC","x":1.1,"y":9.63},{"p":"B3","g":"HC","x":1.2,"y":9.51},{"p":"B3","g":"HC","x":1.38,"y":9.34},{"p":"B3","g":"HC","x":0.98,"y":9.22},{"p":"B3","g":"HC","x":1.16,"y":9.19},{"p":"B3","g":"HC","x":0.8,"y":9.05},{"p":"B3","g":"HC","x":0.88,"y":9.0},{"p":"B3","g":"HC","x":1.25,"y":9.0},{"p":"B3","g":"HC","x":0.735,"y":8.84},{"p":"B3","g":"HC","x":1.06,"y":8.93},{"p":"B3","g":"HC","x":1.23,"y":8.71},{"p":"B3","g":"HC","x":0.95,"y":8.66},{"p":"B3","g":"HC","x":1.09,"y":8.64},{"p":"B3","g":"HC","x":0.86,"y":8.47},{"p":"B3","g":"HC","x":1.12,"y":8.06},{"p":"B3","g":"HC","x":0.89,"y":7.96},{"p":"B3","g":"HC","x":1.02,"y":7.92},{"p":"B3","g":"HC","x":0.75,"y":7.79},{"p":"B3","g":"HC","x":1.1,"y":7.7},{"p":"B3","g":"HC","x":1.23,"y":7.73},{"p":"B3","g":"HC","x":0.84,"y":7.53},{"p":"B3","g":"HC","x":0.77,"y":7.15},{"p":"B3","g":"HC","x":0.91,"y":7.15},{"p":"B3","g":"HC","x":1.04,"y":7.14},{"p":"B3","g":"HC","x":1.16,"y":7.2},{"p":"B3","g":"HC","x":0.94,"y":6.97},{"p":"B3","g":"HC","x":1.18,"y":7.04},{"p":"B3","g":"HC","x":1.03,"y":6.64},{"p":"B3","g":"HC","x":0.91,"y":6.57},{"p":"B3","g":"HC","x":1.05,"y":5.94},{"p":"B3","g":"HC","x":0.95,"y":5.79},{"p":"B3","g":"HC","x":1.0,"y":5.58},
{"p":"B3","g":"MS","x":2.06,"y":11.49},{"p":"B3","g":"MS","x":2.0,"y":11.27},{"p":"B3","g":"MS","x":2.03,"y":11.15},{"p":"B3","g":"MS","x":1.97,"y":10.47},{"p":"B3","g":"MS","x":1.96,"y":10.01},{"p":"B3","g":"MS","x":2.06,"y":9.98},{"p":"B3","g":"MS","x":2.02,"y":9.58},{"p":"B3","g":"MS","x":1.85,"y":9.46},{"p":"B3","g":"MS","x":1.76,"y":9.17},{"p":"B3","g":"MS","x":1.92,"y":9.22},{"p":"B3","g":"MS","x":2.1,"y":9.19},{"p":"B3","g":"MS","x":2.23,"y":9.22},{"p":"B3","g":"MS","x":1.62,"y":8.93},{"p":"B3","g":"MS","x":1.82,"y":8.95},{"p":"B3","g":"MS","x":1.97,"y":8.95},{"p":"B3","g":"MS","x":2.03,"y":8.95},{"p":"B3","g":"MS","x":2.2,"y":9.07},{"p":"B3","g":"MS","x":2.35,"y":8.9},{"p":"B3","g":"MS","x":1.8,"y":8.74},{"p":"B3","g":"MS","x":1.92,"y":8.66},{"p":"B3","g":"MS","x":2.08,"y":8.58},{"p":"B3","g":"MS","x":2.26,"y":8.68},{"p":"B3","g":"MS","x":1.71,"y":8.47},{"p":"B3","g":"MS","x":1.88,"y":8.47},{"p":"B3","g":"MS","x":1.98,"y":8.42},{"p":"B3","g":"MS","x":1.82,"y":8.23},{"p":"B3","g":"MS","x":1.935,"y":8.06},{"p":"B3","g":"MS","x":2.02,"y":7.92},{"p":"B3","g":"MS","x":2.14,"y":8.18},{"p":"B3","g":"MS","x":1.84,"y":7.63},{"p":"B3","g":"MS","x":1.97,"y":7.58},{"p":"B3","g":"MS","x":2.06,"y":7.58},{"p":"B3","g":"MS","x":2.14,"y":7.58},{"p":"B3","g":"MS","x":1.95,"y":6.83},{"p":"B3","g":"MS","x":2.05,"y":6.83},{"p":"B3","g":"MS","x":1.96,"y":6.64},{"p":"B3","g":"MS","x":2.02,"y":6.27},{"p":"B3","g":"MS","x":1.88,"y":6.09},{"p":"B3","g":"MS","x":2.1,"y":6.06},{"p":"B3","g":"MS","x":1.99,"y":5.93},{"p":"B3","g":"MS","x":2.03,"y":5.79},{"p":"B3","g":"MS","x":1.95,"y":5.43},{"p":"B3","g":"MS","x":1.98,"y":4.27},{"p":"B3","g":"MS","x":2.03,"y":4.25},{"p":"B3","g":"MS","x":1.99,"y":4.0},{"p":"B3","g":"MS","x":2.02,"y":3.98},{"p":"B3","g":"MS","x":2.0,"y":3.38},
{"p":"B4","g":"HC","x":1.036,"y":0.4208},{"p":"B4","g":"HC","x":0.993,"y":0.4123},{"p":"B4","g":"HC","x":1.05,"y":0.4074},{"p":"B4","g":"HC","x":0.89,"y":0.4032},{"p":"B4","g":"HC","x":1.125,"y":0.4032},{"p":"B4","g":"HC","x":0.77,"y":0.3974},{"p":"B4","g":"HC","x":0.91,"y":0.3982},{"p":"B4","g":"HC","x":1.05,"y":0.3982},{"p":"B4","g":"HC","x":1.21,"y":0.3965},{"p":"B4","g":"HC","x":0.8,"y":0.3926},{"p":"B4","g":"HC","x":0.95,"y":0.3944},{"p":"B4","g":"HC","x":1.08,"y":0.3933},{"p":"B4","g":"HC","x":1.14,"y":0.3907},{"p":"B4","g":"HC","x":0.89,"y":0.3885},{"p":"B4","g":"HC","x":1.02,"y":0.3885},{"p":"B4","g":"HC","x":0.83,"y":0.382},{"p":"B4","g":"HC","x":1.16,"y":0.3802},{"p":"B4","g":"HC","x":0.99,"y":0.3788},{"p":"B4","g":"HC","x":1.09,"y":0.3758},{"p":"B4","g":"HC","x":0.85,"y":0.3718},{"p":"B4","g":"HC","x":0.9,"y":0.3704},{"p":"B4","g":"HC","x":1.21,"y":0.37},{"p":"B4","g":"HC","x":0.68,"y":0.3661},{"p":"B4","g":"HC","x":1.0,"y":0.3683},{"p":"B4","g":"HC","x":1.31,"y":0.3668},{"p":"B4","g":"HC","x":0.73,"y":0.3644},{"p":"B4","g":"HC","x":0.82,"y":0.363},{"p":"B4","g":"HC","x":1.12,"y":0.3647},{"p":"B4","g":"HC","x":1.22,"y":0.3635},{"p":"B4","g":"HC","x":0.65,"y":0.36},{"p":"B4","g":"HC","x":0.95,"y":0.3591},{"p":"B4","g":"HC","x":1.02,"y":0.3616},{"p":"B4","g":"HC","x":1.3,"y":0.3594},{"p":"B4","g":"HC","x":1.09,"y":0.3554},{"p":"B4","g":"HC","x":0.83,"y":0.3536},{"p":"B4","g":"HC","x":0.92,"y":0.3515},{"p":"B4","g":"HC","x":1.025,"y":0.3506},{"p":"B4","g":"HC","x":1.15,"y":0.3541},{"p":"B4","g":"HC","x":0.89,"y":0.3436},{"p":"B4","g":"HC","x":1.09,"y":0.3406},{"p":"B4","g":"HC","x":0.96,"y":0.3365},{"p":"B4","g":"HC","x":1.04,"y":0.3347},{"p":"B4","g":"HC","x":0.92,"y":0.3309},{"p":"B4","g":"HC","x":1.04,"y":0.3238},{"p":"B4","g":"HC","x":0.96,"y":0.3206},{"p":"B4","g":"HC","x":1.0,"y":0.2991},
{"p":"B4","g":"MS","x":2.036,"y":0.4173},{"p":"B4","g":"MS","x":1.98,"y":0.4085},{"p":"B4","g":"MS","x":2.05,"y":0.4009},{"p":"B4","g":"MS","x":1.9,"y":0.3996},{"p":"B4","g":"MS","x":2.12,"y":0.3947},{"p":"B4","g":"MS","x":1.92,"y":0.3926},{"p":"B4","g":"MS","x":2.025,"y":0.3891},{"p":"B4","g":"MS","x":1.84,"y":0.3885},{"p":"B4","g":"MS","x":2.12,"y":0.3864},{"p":"B4","g":"MS","x":1.96,"y":0.3732},{"p":"B4","g":"MS","x":1.61,"y":0.3621},{"p":"B4","g":"MS","x":1.76,"y":0.3665},{"p":"B4","g":"MS","x":1.81,"y":0.3635},{"p":"B4","g":"MS","x":2.01,"y":0.3638},{"p":"B4","g":"MS","x":2.08,"y":0.3679},{"p":"B4","g":"MS","x":2.17,"y":0.3656},{"p":"B4","g":"MS","x":2.37,"y":0.3621},{"p":"B4","g":"MS","x":1.88,"y":0.3586},{"p":"B4","g":"MS","x":1.97,"y":0.3594},{"p":"B4","g":"MS","x":2.26,"y":0.3577},{"p":"B4","g":"MS","x":1.77,"y":0.3568},{"p":"B4","g":"MS","x":2.06,"y":0.355},{"p":"B4","g":"MS","x":2.23,"y":0.3554},{"p":"B4","g":"MS","x":1.89,"y":0.3538},{"p":"B4","g":"MS","x":1.75,"y":0.3492},{"p":"B4","g":"MS","x":2.05,"y":0.3503},{"p":"B4","g":"MS","x":2.23,"y":0.3453},{"p":"B4","g":"MS","x":1.73,"y":0.34},{"p":"B4","g":"MS","x":1.82,"y":0.3383},{"p":"B4","g":"MS","x":1.93,"y":0.3418},{"p":"B4","g":"MS","x":2.1,"y":0.3422},{"p":"B4","g":"MS","x":2.2,"y":0.3386},{"p":"B4","g":"MS","x":1.65,"y":0.3356},{"p":"B4","g":"MS","x":2.02,"y":0.3356},{"p":"B4","g":"MS","x":2.29,"y":0.3335},{"p":"B4","g":"MS","x":1.82,"y":0.328},{"p":"B4","g":"MS","x":1.95,"y":0.3303},{"p":"B4","g":"MS","x":2.07,"y":0.3277},{"p":"B4","g":"MS","x":2.16,"y":0.328},{"p":"B4","g":"MS","x":1.93,"y":0.3189},{"p":"B4","g":"MS","x":2.025,"y":0.3159},{"p":"B4","g":"MS","x":1.84,"y":0.3123},{"p":"B4","g":"MS","x":2.12,"y":0.3118},{"p":"B4","g":"MS","x":1.95,"y":0.3074},{"p":"B4","g":"MS","x":2.025,"y":0.2986},{"p":"B4","g":"MS","x":1.89,"y":0.2942},{"p":"B4","g":"MS","x":2.06,"y":0.2933},{"p":"B4","g":"MS","x":1.94,"y":0.2877},{"p":"B4","g":"MS","x":2.0,"y":0.263}
]
},
"vconcat": [
{"spacing": 0, "hconcat": [
{"width": 210, "height": 344,
 "title": {"text": "T1w", "anchor": "start", "frame": "group", "dx": 0, "offset": -8, "baseline": "alphabetic", "fontSize": 26, "fontWeight": "normal", "color": "black"},
 "encoding": {"x": {"field": "x", "type": "quantitative", "scale": {"domain": [0.4, 2.6], "nice": false, "zero": false}, "axis": {"values": [1, 2], "labelExpr": "datum.value == 1 ? 'HC' : 'MS'", "title": null, "minExtent": 30}}},
 "resolve": {"axis": {"y": "independent"}},
 "layer": [
  {"data": {"name": "box"}, "transform": [{"filter": "datum.p == 'A1'"}], "mark": {"type": "rule", "strokeWidth": 2}, "encoding": {"y": {"field": "lo", "type": "quantitative", "scale": {"domain": [156.6, 363.9], "nice": false, "zero": false}, "axis": {"orient": "left", "values": [175, 225, 275, 325], "labels": false, "ticks": false, "gridWidth": 0.8, "title": null, "minExtent": 0, "maxExtent": 0}}, "y2": {"field": "hi"}, "color": {"field": "g", "type": "nominal", "scale": {"domain": ["HC", "MS"], "range": ["#F8766D", "#00BFC4"]}, "legend": null}}},
  {"data": {"name": "box"}, "transform": [{"filter": "datum.p == 'A1'"}], "mark": {"type": "bar", "orient": "vertical", "size": 71.6, "fill": "white", "strokeWidth": 2}, "encoding": {"y": {"field": "q1", "type": "quantitative", "axis": {"orient": "left", "values": [200, 250, 300, 350], "format": "d", "title": "NAGM", "titleAngle": 270, "titleX": -75, "titleY": 213, "titleAlign": "center", "titleBaseline": "middle", "titleFontSize": 24, "titleFontWeight": "normal", "titleColor": "black", "minExtent": 50, "maxExtent": 50}}, "y2": {"field": "q3"}, "stroke": {"field": "g", "type": "nominal", "scale": {"domain": ["HC", "MS"], "range": ["#F8766D", "#00BFC4"]}, "legend": null}}},
  {"data": {"name": "box"}, "transform": [{"filter": "datum.p == 'A1'"}], "mark": {"type": "tick", "orient": "horizontal", "size": 71.6, "thickness": 3.5}, "encoding": {"y": {"field": "md", "type": "quantitative", "axis": null}, "color": {"field": "g", "type": "nominal", "scale": {"domain": ["HC", "MS"], "range": ["#F8766D", "#00BFC4"]}, "legend": null}}},
  {"data": {"name": "out"}, "transform": [{"filter": "datum.p == 'A1'"}], "mark": {"type": "circle", "size": 78, "opacity": 1}, "encoding": {"y": {"field": "y", "type": "quantitative", "axis": null}, "color": {"field": "g", "type": "nominal", "scale": {"domain": ["HC", "MS"], "range": ["#F8766D", "#00BFC4"]}, "legend": null}}},
  {"data": {"name": "pts"}, "transform": [{"filter": "datum.p == 'A1'"}], "mark": {"type": "circle", "size": 78, "opacity": 0.6}, "encoding": {"y": {"field": "y", "type": "quantitative", "axis": null}, "color": {"field": "g", "type": "nominal", "scale": {"domain": ["HC", "MS"], "range": ["#F8766D", "#00BFC4"]}, "legend": null}}},
  {"data": {"name": "brk"}, "transform": [{"filter": "datum.p == 'A1'"}], "mark": {"type": "line", "color": "black", "strokeWidth": 1.5}, "encoding": {"y": {"field": "y", "type": "quantitative", "axis": null}, "order": {"field": "o", "type": "quantitative"}}},
  {"data": {"name": "lab"}, "transform": [{"filter": "datum.p == 'A1'"}], "mark": {"type": "text", "baseline": "alphabetic", "dy": -3, "fontSize": 17, "color": "black"}, "encoding": {"y": {"field": "y", "type": "quantitative", "axis": null}, "text": {"field": "t"}}}
 ]},
{"width": 210, "height": 344,
 "title": {"text": "T2w", "anchor": "start", "frame": "group", "dx": 13, "offset": -8, "baseline": "alphabetic", "fontSize": 26, "fontWeight": "normal", "color": "black"},
 "encoding": {"x": {"field": "x", "type": "quantitative", "scale": {"domain": [0.4, 2.6], "nice": false, "zero": false}, "axis": {"values": [1, 2], "labelExpr": "datum.value == 1 ? 'HC' : 'MS'", "title": null, "minExtent": 30}}},
 "resolve": {"axis": {"y": "independent"}},
 "layer": [
  {"data": {"name": "box"}, "transform": [{"filter": "datum.p == 'A2'"}], "mark": {"type": "rule", "strokeWidth": 2}, "encoding": {"y": {"field": "lo", "type": "quantitative", "scale": {"domain": [26.0, 186.0], "nice": false, "zero": false}, "axis": {"orient": "left", "values": [75, 125, 175], "labels": false, "ticks": false, "gridWidth": 0.8, "title": null, "minExtent": 0, "maxExtent": 0}}, "y2": {"field": "hi"}, "color": {"field": "g", "type": "nominal", "scale": {"domain": ["HC", "MS"], "range": ["#F8766D", "#00BFC4"]}, "legend": null}}},
  {"data": {"name": "box"}, "transform": [{"filter": "datum.p == 'A2'"}], "mark": {"type": "bar", "orient": "vertical", "size": 71.6, "fill": "white", "strokeWidth": 2}, "encoding": {"y": {"field": "q1", "type": "quantitative", "axis": {"orient": "left", "values": [50, 100, 150], "format": "d", "title": null, "minExtent": 70, "maxExtent": 70}}, "y2": {"field": "q3"}, "stroke": {"field": "g", "type": "nominal", "scale": {"domain": ["HC", "MS"], "range": ["#F8766D", "#00BFC4"]}, "legend": null}}},
  {"data": {"name": "box"}, "transform": [{"filter": "datum.p == 'A2'"}], "mark": {"type": "tick", "orient": "horizontal", "size": 71.6, "thickness": 3.5}, "encoding": {"y": {"field": "md", "type": "quantitative", "axis": null}, "color": {"field": "g", "type": "nominal", "scale": {"domain": ["HC", "MS"], "range": ["#F8766D", "#00BFC4"]}, "legend": null}}},
  {"data": {"name": "out"}, "transform": [{"filter": "datum.p == 'A2'"}], "mark": {"type": "circle", "size": 78, "opacity": 1}, "encoding": {"y": {"field": "y", "type": "quantitative", "axis": null}, "color": {"field": "g", "type": "nominal", "scale": {"domain": ["HC", "MS"], "range": ["#F8766D", "#00BFC4"]}, "legend": null}}},
  {"data": {"name": "pts"}, "transform": [{"filter": "datum.p == 'A2'"}], "mark": {"type": "circle", "size": 78, "opacity": 0.6}, "encoding": {"y": {"field": "y", "type": "quantitative", "axis": null}, "color": {"field": "g", "type": "nominal", "scale": {"domain": ["HC", "MS"], "range": ["#F8766D", "#00BFC4"]}, "legend": null}}},
  {"data": {"name": "brk"}, "transform": [{"filter": "datum.p == 'A2'"}], "mark": {"type": "line", "color": "black", "strokeWidth": 1.5}, "encoding": {"y": {"field": "y", "type": "quantitative", "axis": null}, "order": {"field": "o", "type": "quantitative"}}},
  {"data": {"name": "lab"}, "transform": [{"filter": "datum.p == 'A2'"}], "mark": {"type": "text", "baseline": "alphabetic", "dy": -3, "fontSize": 17, "color": "black"}, "encoding": {"y": {"field": "y", "type": "quantitative", "axis": null}, "text": {"field": "t"}}}
 ]},
{"width": 231, "height": 344,
 "title": {"text": "T1w/T2w", "anchor": "start", "frame": "group", "dx": 63, "offset": -8, "baseline": "alphabetic", "fontSize": 26, "fontWeight": "normal", "color": "black"},
 "encoding": {"x": {"field": "x", "type": "quantitative", "scale": {"domain": [0.4, 2.6], "nice": false, "zero": false}, "axis": {"values": [1, 2], "labelExpr": "datum.value == 1 ? 'HC' : 'MS'", "title": null, "minExtent": 30}}},
 "resolve": {"axis": {"y": "independent"}},
 "layer": [
  {"data": {"name": "box"}, "transform": [{"filter": "datum.p == 'A3'"}], "mark": {"type": "rule", "strokeWidth": 2}, "encoding": {"y": {"field": "lo", "type": "quantitative", "scale": {"domain": [1.465, 6.146], "nice": false, "zero": false}, "axis": {"orient": "left", "values": [1.5, 2.5, 3.5, 4.5, 5.5], "labels": false, "ticks": false, "gridWidth": 0.8, "title": null, "minExtent": 0, "maxExtent": 0}}, "y2": {"field": "hi"}, "color": {"field": "g", "type": "nominal", "scale": {"domain": ["HC", "MS"], "range": ["#F8766D", "#00BFC4"]}, "legend": null}}},
  {"data": {"name": "box"}, "transform": [{"filter": "datum.p == 'A3'"}], "mark": {"type": "bar", "orient": "vertical", "size": 78.8, "fill": "white", "strokeWidth": 2}, "encoding": {"y": {"field": "q1", "type": "quantitative", "axis": {"orient": "left", "values": [2, 3, 4, 5, 6], "format": "d", "title": null, "minExtent": 49, "maxExtent": 49}}, "y2": {"field": "q3"}, "stroke": {"field": "g", "type": "nominal", "scale": {"domain": ["HC", "MS"], "range": ["#F8766D", "#00BFC4"]}, "legend": null}}},
  {"data": {"name": "box"}, "transform": [{"filter": "datum.p == 'A3'"}], "mark": {"type": "tick", "orient": "horizontal", "size": 78.8, "thickness": 3.5}, "encoding": {"y": {"field": "md", "type": "quantitative", "axis": null}, "color": {"field": "g", "type": "nominal", "scale": {"domain": ["HC", "MS"], "range": ["#F8766D", "#00BFC4"]}, "legend": null}}},
  {"data": {"name": "out"}, "transform": [{"filter": "datum.p == 'A3'"}], "mark": {"type": "circle", "size": 78, "opacity": 1}, "encoding": {"y": {"field": "y", "type": "quantitative", "axis": null}, "color": {"field": "g", "type": "nominal", "scale": {"domain": ["HC", "MS"], "range": ["#F8766D", "#00BFC4"]}, "legend": null}}},
  {"data": {"name": "pts"}, "transform": [{"filter": "datum.p == 'A3'"}], "mark": {"type": "circle", "size": 78, "opacity": 0.6}, "encoding": {"y": {"field": "y", "type": "quantitative", "axis": null}, "color": {"field": "g", "type": "nominal", "scale": {"domain": ["HC", "MS"], "range": ["#F8766D", "#00BFC4"]}, "legend": null}}},
  {"data": {"name": "brk"}, "transform": [{"filter": "datum.p == 'A3'"}], "mark": {"type": "line", "color": "black", "strokeWidth": 1.5}, "encoding": {"y": {"field": "y", "type": "quantitative", "axis": null}, "order": {"field": "o", "type": "quantitative"}}},
  {"data": {"name": "lab"}, "transform": [{"filter": "datum.p == 'A3'"}], "mark": {"type": "text", "baseline": "alphabetic", "dy": -3, "fontSize": 17, "color": "black"}, "encoding": {"y": {"field": "y", "type": "quantitative", "axis": null}, "text": {"field": "t"}}}
 ]},
{"width": 185, "height": 344,
 "title": {"text": "sT1w/T2w", "anchor": "start", "frame": "group", "dx": -26.5, "offset": -8, "baseline": "alphabetic", "fontSize": 26, "fontWeight": "normal", "color": "black"},
 "encoding": {"x": {"field": "x", "type": "quantitative", "scale": {"domain": [0.4, 2.502], "nice": false, "zero": false}, "axis": {"values": [1, 2], "labelExpr": "datum.value == 1 ? 'HC' : 'MS'", "title": null, "minExtent": 30}}},
 "resolve": {"axis": {"y": "independent"}},
 "layer": [
  {"data": {"name": "box"}, "transform": [{"filter": "datum.p == 'A4'"}], "mark": {"type": "rule", "strokeWidth": 2}, "encoding": {"y": {"field": "lo", "type": "quantitative", "scale": {"domain": [-0.00258, 0.01291], "nice": false, "zero": false}, "axis": {"orient": "left", "values": [-0.002, 0.002, 0.006, 0.010], "labels": false, "ticks": false, "gridWidth": 0.8, "title": null, "minExtent": 0, "maxExtent": 0}}, "y2": {"field": "hi"}, "color": {"field": "g", "type": "nominal", "scale": {"domain": ["HC", "MS"], "range": ["#F8766D", "#00BFC4"]}, "legend": null}}},
  {"data": {"name": "box"}, "transform": [{"filter": "datum.p == 'A4'"}], "mark": {"type": "bar", "orient": "vertical", "size": 66, "fill": "white", "strokeWidth": 2}, "encoding": {"y": {"field": "q1", "type": "quantitative", "axis": {"orient": "left", "values": [0, 0.004, 0.008, 0.012], "format": ".3f", "title": null, "minExtent": 86.5, "maxExtent": 86.5}}, "y2": {"field": "q3"}, "stroke": {"field": "g", "type": "nominal", "scale": {"domain": ["HC", "MS"], "range": ["#F8766D", "#00BFC4"]}, "legend": null}}},
  {"data": {"name": "box"}, "transform": [{"filter": "datum.p == 'A4'"}], "mark": {"type": "tick", "orient": "horizontal", "size": 66, "thickness": 3.5}, "encoding": {"y": {"field": "md", "type": "quantitative", "axis": null}, "color": {"field": "g", "type": "nominal", "scale": {"domain": ["HC", "MS"], "range": ["#F8766D", "#00BFC4"]}, "legend": null}}},
  {"data": {"name": "out"}, "transform": [{"filter": "datum.p == 'A4'"}], "mark": {"type": "circle", "size": 78, "opacity": 1}, "encoding": {"y": {"field": "y", "type": "quantitative", "axis": null}, "color": {"field": "g", "type": "nominal", "scale": {"domain": ["HC", "MS"], "range": ["#F8766D", "#00BFC4"]}, "legend": null}}},
  {"data": {"name": "pts"}, "transform": [{"filter": "datum.p == 'A4'"}], "mark": {"type": "circle", "size": 78, "opacity": 0.6}, "encoding": {"y": {"field": "y", "type": "quantitative", "axis": null}, "color": {"field": "g", "type": "nominal", "scale": {"domain": ["HC", "MS"], "range": ["#F8766D", "#00BFC4"]}, "legend": null}}},
  {"data": {"name": "brk"}, "transform": [{"filter": "datum.p == 'A4'"}], "mark": {"type": "line", "color": "black", "strokeWidth": 1.5}, "encoding": {"y": {"field": "y", "type": "quantitative", "axis": null}, "order": {"field": "o", "type": "quantitative"}}},
  {"data": {"name": "lab"}, "transform": [{"filter": "datum.p == 'A4'"}], "mark": {"type": "text", "baseline": "alphabetic", "dy": -3, "fontSize": 17, "color": "black"}, "encoding": {"y": {"field": "y", "type": "quantitative", "axis": null}, "text": {"field": "t"}}}
 ]}
]},
{"spacing": 0, "hconcat": [
{"width": 210, "height": 343.3,
 "encoding": {"x": {"field": "x", "type": "quantitative", "scale": {"domain": [0.4, 2.6], "nice": false, "zero": false}, "axis": {"values": [1, 2], "labelExpr": "datum.value == 1 ? 'HC' : 'MS'", "title": null}}},
 "resolve": {"axis": {"y": "independent"}},
 "layer": [
  {"data": {"name": "box"}, "transform": [{"filter": "datum.p == 'B1'"}], "mark": {"type": "rule", "strokeWidth": 2}, "encoding": {"y": {"field": "lo", "type": "quantitative", "scale": {"domain": [208.7, 479.7], "nice": false, "zero": false}, "axis": {"orient": "left", "values": [250, 350, 450], "labels": false, "ticks": false, "gridWidth": 0.8, "title": null, "minExtent": 0, "maxExtent": 0}}, "y2": {"field": "hi"}, "color": {"field": "g", "type": "nominal", "scale": {"domain": ["HC", "MS"], "range": ["#F8766D", "#00BFC4"]}, "legend": null}}},
  {"data": {"name": "box"}, "transform": [{"filter": "datum.p == 'B1'"}], "mark": {"type": "bar", "orient": "vertical", "size": 71.6, "fill": "white", "strokeWidth": 2}, "encoding": {"y": {"field": "q1", "type": "quantitative", "axis": {"orient": "left", "values": [300, 400], "format": "d", "title": "NAWM", "titleAngle": 270, "titleX": -75, "titleY": 150, "titleAlign": "center", "titleBaseline": "middle", "titleFontSize": 24, "titleFontWeight": "normal", "titleColor": "black", "minExtent": 50, "maxExtent": 50}}, "y2": {"field": "q3"}, "stroke": {"field": "g", "type": "nominal", "scale": {"domain": ["HC", "MS"], "range": ["#F8766D", "#00BFC4"]}, "legend": null}}},
  {"data": {"name": "box"}, "transform": [{"filter": "datum.p == 'B1'"}], "mark": {"type": "tick", "orient": "horizontal", "size": 71.6, "thickness": 3.5}, "encoding": {"y": {"field": "md", "type": "quantitative", "axis": null}, "color": {"field": "g", "type": "nominal", "scale": {"domain": ["HC", "MS"], "range": ["#F8766D", "#00BFC4"]}, "legend": null}}},
  {"data": {"name": "out"}, "transform": [{"filter": "datum.p == 'B1'"}], "mark": {"type": "circle", "size": 78, "opacity": 1}, "encoding": {"y": {"field": "y", "type": "quantitative", "axis": null}, "color": {"field": "g", "type": "nominal", "scale": {"domain": ["HC", "MS"], "range": ["#F8766D", "#00BFC4"]}, "legend": null}}},
  {"data": {"name": "pts"}, "transform": [{"filter": "datum.p == 'B1'"}], "mark": {"type": "circle", "size": 78, "opacity": 0.6}, "encoding": {"y": {"field": "y", "type": "quantitative", "axis": null}, "color": {"field": "g", "type": "nominal", "scale": {"domain": ["HC", "MS"], "range": ["#F8766D", "#00BFC4"]}, "legend": null}}},
  {"data": {"name": "brk"}, "transform": [{"filter": "datum.p == 'B1'"}], "mark": {"type": "line", "color": "black", "strokeWidth": 1.5}, "encoding": {"y": {"field": "y", "type": "quantitative", "axis": null}, "order": {"field": "o", "type": "quantitative"}}},
  {"data": {"name": "lab"}, "transform": [{"filter": "datum.p == 'B1'"}], "mark": {"type": "text", "baseline": "alphabetic", "dy": -3, "fontSize": 17, "color": "black"}, "encoding": {"y": {"field": "y", "type": "quantitative", "axis": null}, "text": {"field": "t"}}}
 ]},
{"width": 221.5, "height": 343.3,
 "encoding": {"x": {"field": "x", "type": "quantitative", "scale": {"domain": [0.4, 2.6], "nice": false, "zero": false}, "axis": {"values": [1, 2], "labelExpr": "datum.value == 1 ? 'HC' : 'MS'", "title": null}}},
 "resolve": {"axis": {"y": "independent"}},
 "layer": [
  {"data": {"name": "box"}, "transform": [{"filter": "datum.p == 'B2'"}], "mark": {"type": "rule", "strokeWidth": 2}, "encoding": {"y": {"field": "lo", "type": "quantitative", "scale": {"domain": [16.5, 119.5], "nice": false, "zero": false}, "axis": {"orient": "left", "values": [45, 75, 105], "labels": false, "ticks": false, "gridWidth": 0.8, "title": null, "minExtent": 0, "maxExtent": 0}}, "y2": {"field": "hi"}, "color": {"field": "g", "type": "nominal", "scale": {"domain": ["HC", "MS"], "range": ["#F8766D", "#00BFC4"]}, "legend": null}}},
  {"data": {"name": "box"}, "transform": [{"filter": "datum.p == 'B2'"}], "mark": {"type": "bar", "orient": "vertical", "size": 75.5, "fill": "white", "strokeWidth": 2}, "encoding": {"y": {"field": "q1", "type": "quantitative", "axis": {"orient": "left", "values": [30, 60, 90], "format": "d", "title": null, "minExtent": 59, "maxExtent": 59}}, "y2": {"field": "q3"}, "stroke": {"field": "g", "type": "nominal", "scale": {"domain": ["HC", "MS"], "range": ["#F8766D", "#00BFC4"]}, "legend": null}}},
  {"data": {"name": "box"}, "transform": [{"filter": "datum.p == 'B2'"}], "mark": {"type": "tick", "orient": "horizontal", "size": 75.5, "thickness": 3.5}, "encoding": {"y": {"field": "md", "type": "quantitative", "axis": null}, "color": {"field": "g", "type": "nominal", "scale": {"domain": ["HC", "MS"], "range": ["#F8766D", "#00BFC4"]}, "legend": null}}},
  {"data": {"name": "out"}, "transform": [{"filter": "datum.p == 'B2'"}], "mark": {"type": "circle", "size": 78, "opacity": 1}, "encoding": {"y": {"field": "y", "type": "quantitative", "axis": null}, "color": {"field": "g", "type": "nominal", "scale": {"domain": ["HC", "MS"], "range": ["#F8766D", "#00BFC4"]}, "legend": null}}},
  {"data": {"name": "pts"}, "transform": [{"filter": "datum.p == 'B2'"}], "mark": {"type": "circle", "size": 78, "opacity": 0.6}, "encoding": {"y": {"field": "y", "type": "quantitative", "axis": null}, "color": {"field": "g", "type": "nominal", "scale": {"domain": ["HC", "MS"], "range": ["#F8766D", "#00BFC4"]}, "legend": null}}},
  {"data": {"name": "brk"}, "transform": [{"filter": "datum.p == 'B2'"}], "mark": {"type": "line", "color": "black", "strokeWidth": 1.5}, "encoding": {"y": {"field": "y", "type": "quantitative", "axis": null}, "order": {"field": "o", "type": "quantitative"}}},
  {"data": {"name": "lab"}, "transform": [{"filter": "datum.p == 'B2'"}], "mark": {"type": "text", "baseline": "alphabetic", "dy": -3, "fontSize": 17, "color": "black"}, "encoding": {"y": {"field": "y", "type": "quantitative", "axis": null}, "text": {"field": "t"}}}
 ]},
{"width": 204.6, "height": 343.3,
 "encoding": {"x": {"field": "x", "type": "quantitative", "scale": {"domain": [0.4, 2.6], "nice": false, "zero": false}, "axis": {"values": [1, 2], "labelExpr": "datum.value == 1 ? 'HC' : 'MS'", "title": null}}},
 "resolve": {"axis": {"y": "independent"}},
 "layer": [
  {"data": {"name": "box"}, "transform": [{"filter": "datum.p == 'B3'"}], "mark": {"type": "rule", "strokeWidth": 2}, "encoding": {"y": {"field": "lo", "type": "quantitative", "scale": {"domain": [2.97, 12.905], "nice": false, "zero": false}, "axis": {"orient": "left", "values": [3.75, 6.25, 8.75, 11.25], "labels": false, "ticks": false, "gridWidth": 0.8, "title": null, "minExtent": 0, "maxExtent": 0}}, "y2": {"field": "hi"}, "color": {"field": "g", "type": "nominal", "scale": {"domain": ["HC", "MS"], "range": ["#F8766D", "#00BFC4"]}, "legend": null}}},
  {"data": {"name": "box"}, "transform": [{"filter": "datum.p == 'B3'"}], "mark": {"type": "bar", "orient": "vertical", "size": 69.8, "fill": "white", "strokeWidth": 2}, "encoding": {"y": {"field": "q1", "type": "quantitative", "axis": {"orient": "left", "values": [5, 7.5, 10, 12.5], "format": ".1f", "title": null, "minExtent": 75, "maxExtent": 75}}, "y2": {"field": "q3"}, "stroke": {"field": "g", "type": "nominal", "scale": {"domain": ["HC", "MS"], "range": ["#F8766D", "#00BFC4"]}, "legend": null}}},
  {"data": {"name": "box"}, "transform": [{"filter": "datum.p == 'B3'"}], "mark": {"type": "tick", "orient": "horizontal", "size": 69.8, "thickness": 3.5}, "encoding": {"y": {"field": "md", "type": "quantitative", "axis": null}, "color": {"field": "g", "type": "nominal", "scale": {"domain": ["HC", "MS"], "range": ["#F8766D", "#00BFC4"]}, "legend": null}}},
  {"data": {"name": "out"}, "transform": [{"filter": "datum.p == 'B3'"}], "mark": {"type": "circle", "size": 78, "opacity": 1}, "encoding": {"y": {"field": "y", "type": "quantitative", "axis": null}, "color": {"field": "g", "type": "nominal", "scale": {"domain": ["HC", "MS"], "range": ["#F8766D", "#00BFC4"]}, "legend": null}}},
  {"data": {"name": "pts"}, "transform": [{"filter": "datum.p == 'B3'"}], "mark": {"type": "circle", "size": 78, "opacity": 0.6}, "encoding": {"y": {"field": "y", "type": "quantitative", "axis": null}, "color": {"field": "g", "type": "nominal", "scale": {"domain": ["HC", "MS"], "range": ["#F8766D", "#00BFC4"]}, "legend": null}}},
  {"data": {"name": "brk"}, "transform": [{"filter": "datum.p == 'B3'"}], "mark": {"type": "line", "color": "black", "strokeWidth": 1.5}, "encoding": {"y": {"field": "y", "type": "quantitative", "axis": null}, "order": {"field": "o", "type": "quantitative"}}},
  {"data": {"name": "lab"}, "transform": [{"filter": "datum.p == 'B3'"}], "mark": {"type": "text", "baseline": "alphabetic", "dy": -3, "fontSize": 17, "color": "black"}, "encoding": {"y": {"field": "y", "type": "quantitative", "axis": null}, "text": {"field": "t"}}}
 ]},
{"width": 195.5, "height": 343.3,
 "encoding": {"x": {"field": "x", "type": "quantitative", "scale": {"domain": [0.4, 2.495], "nice": false, "zero": false}, "axis": {"values": [1, 2], "labelExpr": "datum.value == 1 ? 'HC' : 'MS'", "title": null}}},
 "resolve": {"axis": {"y": "independent"}},
 "layer": [
  {"data": {"name": "box"}, "transform": [{"filter": "datum.p == 'B4'"}], "mark": {"type": "rule", "strokeWidth": 2}, "encoding": {"y": {"field": "lo", "type": "quantitative", "scale": {"domain": [0.2554, 0.437], "nice": false, "zero": false}, "axis": {"orient": "left", "values": [0.275, 0.325, 0.375, 0.425], "labels": false, "ticks": false, "gridWidth": 0.8, "title": null, "minExtent": 0, "maxExtent": 0}}, "y2": {"field": "hi"}, "color": {"field": "g", "type": "nominal", "scale": {"domain": ["HC", "MS"], "range": ["#F8766D", "#00BFC4"]}, "legend": null}}},
  {"data": {"name": "box"}, "transform": [{"filter": "datum.p == 'B4'"}], "mark": {"type": "bar", "orient": "vertical", "size": 70, "fill": "white", "strokeWidth": 2}, "encoding": {"y": {"field": "q1", "type": "quantitative", "axis": {"orient": "left", "values": [0.30, 0.35, 0.40], "format": ".2f", "title": null, "minExtent": 76, "maxExtent": 76}}, "y2": {"field": "q3"}, "stroke": {"field": "g", "type": "nominal", "scale": {"domain": ["HC", "MS"], "range": ["#F8766D", "#00BFC4"]}, "legend": null}}},
  {"data": {"name": "box"}, "transform": [{"filter": "datum.p == 'B4'"}], "mark": {"type": "tick", "orient": "horizontal", "size": 70, "thickness": 3.5}, "encoding": {"y": {"field": "md", "type": "quantitative", "axis": null}, "color": {"field": "g", "type": "nominal", "scale": {"domain": ["HC", "MS"], "range": ["#F8766D", "#00BFC4"]}, "legend": null}}},
  {"data": {"name": "out"}, "transform": [{"filter": "datum.p == 'B4'"}], "mark": {"type": "circle", "size": 78, "opacity": 1}, "encoding": {"y": {"field": "y", "type": "quantitative", "axis": null}, "color": {"field": "g", "type": "nominal", "scale": {"domain": ["HC", "MS"], "range": ["#F8766D", "#00BFC4"]}, "legend": null}}},
  {"data": {"name": "pts"}, "transform": [{"filter": "datum.p == 'B4'"}], "mark": {"type": "circle", "size": 78, "opacity": 0.6}, "encoding": {"y": {"field": "y", "type": "quantitative", "axis": null}, "color": {"field": "g", "type": "nominal", "scale": {"domain": ["HC", "MS"], "range": ["#F8766D", "#00BFC4"]}, "legend": null}}},
  {"data": {"name": "brk"}, "transform": [{"filter": "datum.p == 'B4'"}], "mark": {"type": "line", "color": "black", "strokeWidth": 1.5}, "encoding": {"y": {"field": "y", "type": "quantitative", "axis": null}, "order": {"field": "o", "type": "quantitative"}}},
  {"data": {"name": "lab"}, "transform": [{"filter": "datum.p == 'B4'"}], "mark": {"type": "text", "baseline": "alphabetic", "dy": -3, "fontSize": 17, "color": "black"}, "encoding": {"y": {"field": "y", "type": "quantitative", "axis": null}, "text": {"field": "t"}}}
 ]}
]}
]
}
